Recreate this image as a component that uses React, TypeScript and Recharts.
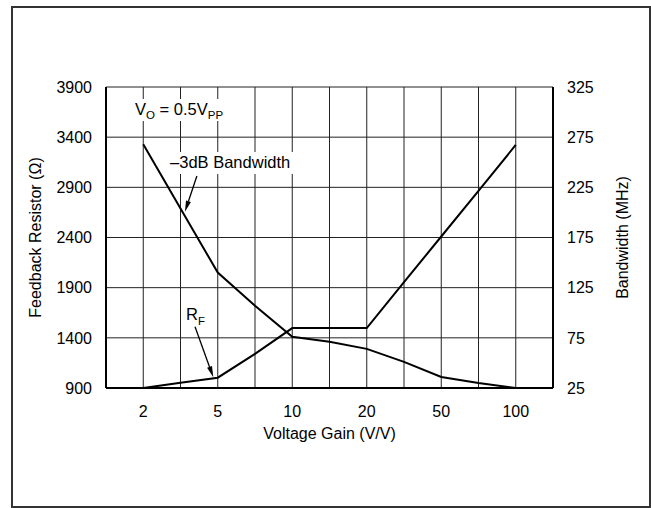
import React from 'react';
import { LineChart, Line, XAxis, YAxis, CartesianGrid, ReferenceDot, ReferenceLine, Label } from 'recharts';

// gain axis is evenly spaced: labelled gains sit on odd positions, half-steps between them
const gainLabels = ['2', '5', '10', '20', '50', '100'];
const gainTickPos = [1, 3, 5, 7, 9, 11];
const gridPos = [1, 2, 3, 4, 5, 6, 7, 8, 9, 10, 11];
const xPos = [1, 2, 3, 4, 5, 6, 7, 8, 9, 10, 11];
const feedbackResistor = [900, 953, 1003, 1240, 1497, 1497, 1497, 1955, 2410, 2865, 3322];
const bandwidth = [268, 204, 140, 107, 76, 71, 64, 51, 36, 30, 25];
const resistorTicks = [900, 1400, 1900, 2400, 2900, 3400, 3900];
const bandwidthTicks = [25, 75, 125, 175, 225, 275, 325];

const data = xPos.map((x, i) => ({ x, rf: feedbackResistor[i], bw: bandwidth[i] }));

const FONT = 16;
const NOTE_FONT = 16.5;
const INK = '#000';

const gainFormatter = (v: number) => {
  const i = gainTickPos.indexOf(v);
  return i >= 0 ? gainLabels[i] : '';
};

const Arrow = (p: any) => {
  const { x1, y1, x2, y2 } = p;
  const a = Math.atan2(y2 - y1, x2 - x1);
  const len = 11;
  const half = 2.6;
  const bx = x2 - len * Math.cos(a);
  const by = y2 - len * Math.sin(a);
  const pts = [
    `${x2},${y2}`,
    `${bx - half * Math.sin(a)},${by + half * Math.cos(a)}`,
    `${bx + half * Math.sin(a)},${by - half * Math.cos(a)}`,
  ].join(' ');
  return (
    <g>
      <line x1={x1} y1={y1} x2={bx} y2={by} stroke={INK} strokeWidth={1.3} />
      <polygon points={pts} fill={INK} />
    </g>
  );
};

const note = (w: number, content: React.ReactNode) => (p: any) => (
  <g>
    <rect x={p.cx - 3} y={p.cy - 16} width={w} height={22} fill="#fff" />
    <text x={p.cx} y={p.cy} fontSize={NOTE_FONT} fill={INK}>
      {content}
    </text>
  </g>
);

export default function App() {
  return (
    <div style={{ position: 'absolute', left: 0, top: 0, width: 651, height: 508, background: '#fff', fontFamily: '"Liberation Sans", Arial, sans-serif' }}>
      <div style={{ position: 'absolute', left: 11, top: 6, width: 640, height: 502, border: '2px solid #333', boxSizing: 'border-box' }} />
      <div style={{ position: 'absolute', left: 0, top: 0 }}>
        <LineChart width={651} height={508} data={data} margin={{ top: 87, right: 17, bottom: 80, left: 25 }}>
          <CartesianGrid yAxisId="left" stroke="#222" strokeWidth={1} />
          <XAxis
            dataKey="x"
            type="number"
            domain={[0, 12]}
            ticks={gridPos}
            tickFormatter={gainFormatter}
            tickLine={false}
            tickMargin={12}
            height={40}
            axisLine={{ stroke: INK, strokeWidth: 2 }}
            tick={{ fontSize: FONT, fill: INK }}
            interval={0}
          >
            <Label value="Voltage Gain (V/V)" position="bottom" offset={0} fontSize={FONT} fill={INK} />
          </XAxis>
          <XAxis xAxisId="top" orientation="top" type="number" domain={[0, 12]} height={0} tick={false} tickLine={false} axisLine={{ stroke: INK, strokeWidth: 2 }} />
          <YAxis
            yAxisId="left"
            domain={[900, 3900]}
            ticks={resistorTicks}
            width={81}
            tickLine={false}
            tickMargin={8}
            axisLine={{ stroke: INK, strokeWidth: 2 }}
            tick={{ fontSize: FONT, fill: INK }}
            interval={0}
          >
            <Label value="Feedback Resistor (Ω)" angle={-90} position="insideLeft" offset={10} fontSize={FONT} fill={INK} style={{ textAnchor: 'middle' }} />
          </YAxis>
          <YAxis
            yAxisId="right"
            orientation="right"
            domain={[25, 325]}
            ticks={bandwidthTicks}
            width={81}
            tickLine={false}
            tickMargin={8}
            axisLine={{ stroke: INK, strokeWidth: 2 }}
            tick={{ fontSize: FONT, fill: INK }}
            interval={0}
          >
            <Label value="Bandwidth (MHz)" angle={-90} position="insideRight" offset={12} fontSize={FONT} fill={INK} style={{ textAnchor: 'middle' }} />
          </YAxis>
          <ReferenceDot
            yAxisId="left"
            x={0.78}
            y={3621}
            shape={note(98, (
              <>
                V<tspan fontSize={11.5} dy={4}>O</tspan>
                <tspan dy={-4}> = 0.5V</tspan>
                <tspan fontSize={11.5} dy={4}>PP</tspan>
              </>
            ))}
          />
          <ReferenceDot yAxisId="left" x={1.72} y={3093} shape={note(128, '–3dB Bandwidth')} />
          <ReferenceDot
            yAxisId="left"
            x={2.15}
            y={1578}
            shape={note(22, (
              <>
                R<tspan fontSize={11.5} dy={5}>F</tspan>
              </>
            ))}
          />
          <ReferenceLine yAxisId="left" segment={[{ x: 2.44, y: 3013 }, { x: 2.12, y: 2657 }]} shape={Arrow} />
          <ReferenceLine yAxisId="left" segment={[{ x: 2.39, y: 1511 }, { x: 2.88, y: 1007 }]} shape={Arrow} />
          <Line yAxisId="left" dataKey="rf" type="linear" stroke={INK} strokeWidth={2} dot={false} isAnimationActive={false} />
          <Line yAxisId="right" dataKey="bw" type="linear" stroke={INK} strokeWidth={2} dot={false} isAnimationActive={false} />
        </LineChart>
      </div>
    </div>
  );
}
